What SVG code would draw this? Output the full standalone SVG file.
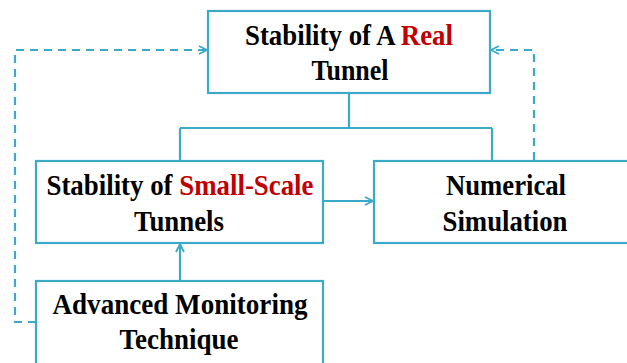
<svg xmlns="http://www.w3.org/2000/svg" width="627" height="363" viewBox="0 0 627 363">
<defs>
<style>
.box{fill:#fff;stroke:#3AAAC8;stroke-width:2.2}
.ln{fill:none;stroke:#3AAAC8;stroke-width:2.2}
.dash{fill:none;stroke:#3AAAC8;stroke-width:2.2;stroke-dasharray:8,6}
.t{font-family:"Liberation Serif","Times New Roman",serif;font-weight:bold;font-size:29px;fill:#000;text-anchor:middle}
.r{fill:#C00000}
</style>
<marker id="ah" viewBox="0 0 10 10" refX="9" refY="5" markerWidth="10" markerHeight="10" markerUnits="userSpaceOnUse" orient="auto">
<path d="M1,1 L9,5 L1,9" fill="none" stroke="#3AAAC8" stroke-width="1.8"/>
</marker>
</defs>
<rect width="627" height="363" fill="#fff"/>
<g id="connectors">
<path class="ln" d="M349,93 V128 M180,128 H492 M180,128 V160 M492,128 V160"/>
<path class="ln" d="M323,201 H373" marker-end="url(#ah)"/>
<path class="ln" d="M180,280 V244" marker-end="url(#ah)"/>
<path class="dash" d="M36,322 H15 V50 H207" marker-end="url(#ah)"/>
<path class="dash" d="M534,160 V50 H491" marker-end="url(#ah)"/>
</g>
<g id="real">
<rect class="box" x="208" y="11" width="282" height="82"/>
<text class="t" x="349" y="45" textLength="208" lengthAdjust="spacingAndGlyphs">Stability of A <tspan class="r">Real</tspan></text>
<text class="t" x="350" y="80" textLength="77" lengthAdjust="spacingAndGlyphs">Tunnel</text>
</g>
<g id="small">
<rect class="box" x="36" y="161" width="287" height="82"/>
<text class="t" x="180" y="195" textLength="267" lengthAdjust="spacingAndGlyphs">Stability of <tspan class="r">Small-Scale</tspan></text>
<text class="t" x="179" y="231" textLength="90" lengthAdjust="spacingAndGlyphs">Tunnels</text>
</g>
<g id="numerical">
<rect class="box" x="374" y="161" width="260" height="82"/>
<text class="t" x="506" y="195" textLength="120" lengthAdjust="spacingAndGlyphs">Numerical</text>
<text class="t" x="505" y="231" textLength="125" lengthAdjust="spacingAndGlyphs">Simulation</text>
</g>
<g id="monitoring">
<rect class="box" x="36" y="281" width="287" height="90"/>
<text class="t" x="180" y="314" textLength="255" lengthAdjust="spacingAndGlyphs">Advanced Monitoring</text>
<text class="t" x="179" y="349" textLength="119" lengthAdjust="spacingAndGlyphs">Technique</text>
</g>
</svg>
